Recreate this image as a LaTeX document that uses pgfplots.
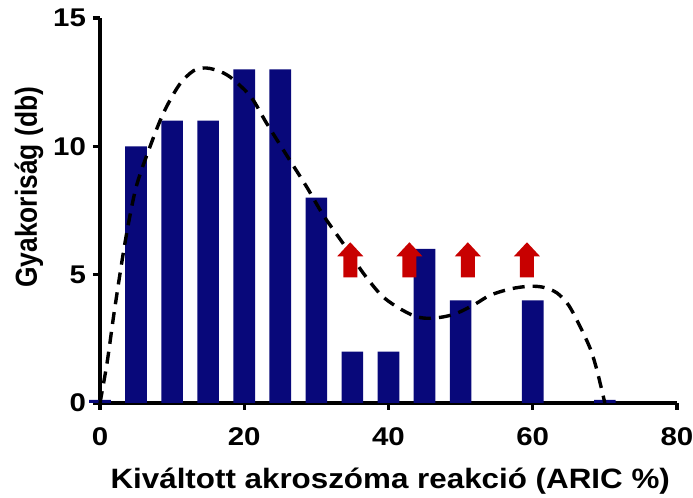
\documentclass[border=0pt]{standalone}
\usepackage{fontspec}
\setmainfont{Liberation Sans}
\newfontfamily\widesans[FakeStretch=1.15]{Liberation Sans}
\newfontfamily\widesanslabel[FakeStretch=1.12]{Liberation Sans}
\usepackage{graphicx}
\usepackage{pgfplots}
\pgfplotsset{compat=1.18}

\definecolor{barblue}{RGB}{8,8,122}
\definecolor{arrowred}{RGB}{200,0,0}

% block arrow pointing up, anchored at its centre
\pgfdeclareplotmark{uparrow}{%
  \pgfpathmoveto{\pgfqpoint{-3.5pt}{-8.75pt}}%
  \pgfpathlineto{\pgfqpoint{3.5pt}{-8.75pt}}%
  \pgfpathlineto{\pgfqpoint{3.5pt}{1.75pt}}%
  \pgfpathlineto{\pgfqpoint{6.5pt}{1.75pt}}%
  \pgfpathlineto{\pgfqpoint{0pt}{8.75pt}}%
  \pgfpathlineto{\pgfqpoint{-6.5pt}{1.75pt}}%
  \pgfpathlineto{\pgfqpoint{-3.5pt}{1.75pt}}%
  \pgfpathclose
  \pgfusepathqfill
}

\begin{document}
\begin{tikzpicture}
\begin{axis}[
  at={(0,0)}, anchor=south west,
  scale only axis,
  width=288.5pt, height=192.5pt,
  xmin=0, xmax=80, ymin=0, ymax=15,
  axis x line*=bottom, axis y line*=left,
  axis line style={line width=1.6pt, -},
  xtick={0,20,40,60,80}, ytick={0,5,10,15},
  tick style={line width=1.6pt, black},
  tick align=outside, major tick length=3.5pt,
  minor tick num=0,
  ticklabel style={font=\widesans\fontsize{12.8}{15}\selectfont\bfseries},
  /pgf/number format/assume math mode=true,
  xticklabel style={anchor=base, yshift=-18pt},
  yticklabel style={anchor=east, xshift=0pt},
  xlabel={\widesanslabel\fontsize{14}{16}\selectfont\bfseries Kiváltott akroszóma reakció (ARIC \%)},
  ylabel={\scalebox{1}[1.15]{\fontsize{13.2}{16}\selectfont\bfseries Gyakoriság (db)}},
  xlabel style={at={(axis description cs:0.503,-0.221)}, anchor=base},
  ylabel style={at={(axis description cs:-0.123,0.56)}, anchor=center},
  clip=false,
]
% frequency histogram
\addplot[ybar, bar width=3, fill=barblue, draw=none, bar shift=0pt] coordinates {
  (0,0.12) (5,10) (10,11) (15,11) (20,13) (25,13) (30,8)
  (35,2) (40,2) (45,6) (50,4) (60,4) (70,0.12)
};
% fitted distribution curve
\addplot[smooth, line width=1.7pt, dash pattern=on 6pt off 4pt, black] coordinates {
  (0,0) (1,1.6) (2,3.6) (3.5,6.3) (5,8.4) (6.9,9.96) (8.8,11.3) (11,12.4)
  (13,12.95) (14.8,13.05) (16.8,12.9) (18.5,12.6) (21,11.9) (23.1,10.9)
  (26,9.6) (28.7,8.4) (31,7.3) (34,6.1) (36.5,5.06) (39,4.2) (41.2,3.74)
  (43.5,3.4) (45.3,3.3) (47.5,3.35) (49.5,3.5) (52,3.85) (54.1,4.2) (57,4.45)
  (59.6,4.55) (61.6,4.5) (63.4,4.28) (65,3.8) (66.6,2.96) (68,2.1) (68.9,1.28) (70,0)
};
% markers for the selected ranges
\addplot[only marks, mark=uparrow, color=arrowred] coordinates {
  (34.7,5.58) (42.9,5.58) (51.0,5.58) (59.2,5.58)
};
\end{axis}
\pgfresetboundingbox
\path[use as bounding box] (-50pt,-47.5pt) rectangle (296.5pt,201.5pt);
\end{tikzpicture}
\end{document}
